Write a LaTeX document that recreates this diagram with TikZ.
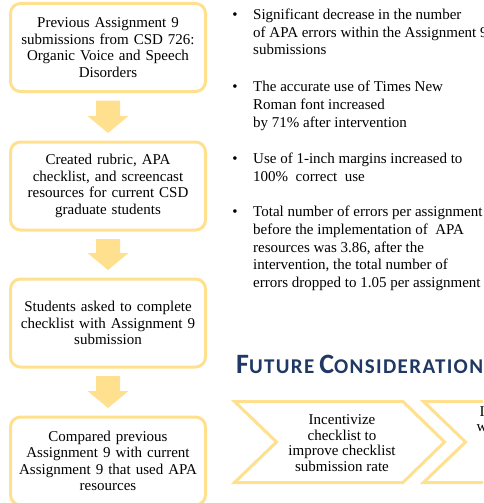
\documentclass[tikz,border=0pt]{standalone}
\usepackage{fontspec}
\setmainfont{Liberation Serif}
\newfontfamily\headfont{Carlito}[LetterSpace=6.5]
\usetikzlibrary{calc}
\definecolor{gold}{HTML}{FFE08F}
\definecolor{navy}{HTML}{1F3864}

% block arrow pointing down from one flow box to the next
\newcommand{\flowarrow}[2]{%
  \path let \p1=(#1.south), \p2=(#2.north) in
    [fill=gold]
    (\x1-12pt,\y1-7.5pt) -- (\x1+12pt,\y1-7.5pt) -- (\x1+12pt,\y2+24.5pt)
    -- (\x1+20.5pt,\y2+24.5pt) -- (\x1,\y2+7.5pt) -- (\x1-20.5pt,\y2+24.5pt)
    -- (\x1-12pt,\y2+24.5pt) -- cycle;}

\begin{document}
\begin{tikzpicture}[x=1pt,y=-1pt,
  flowbox/.style={draw=gold, line width=3pt, rounded corners=10pt,
    minimum width=195pt, minimum height=88pt, text width=185pt,
    align=center, inner sep=0pt, font=\fontsize{15}{16.5}\selectfont},
  bullettext/.style={anchor=north west, inner sep=0pt, align=left,
    font=\fontsize{15}{17.6}\selectfont},
  dot/.style={anchor=base, inner sep=0pt, font=\fontsize{15}{15}\selectfont},
  chevron/.style={draw=gold, line width=3pt, miter limit=10},
  chevtext/.style={align=center, inner sep=0pt, font=\fontsize{15}{15.5}\selectfont},
  frag/.style={anchor=base west, inner sep=0pt, font=\fontsize{15}{15.5}\selectfont}]
\useasboundingbox (0,0) rectangle (483,503);
\clip (0,0) rectangle (483,503);

% flow of the study, top to bottom
\node[flowbox] (s1) at (108,47.5) {Previous Assignment 9\\submissions from CSD 726:\\Organic Voice and Speech\\Disorders};
\node[flowbox] (s2) at (108,186) {Created rubric, APA\\checklist, and screencast\\resources for current CSD\\graduate students};
\node[flowbox] (s3) at (108,323) {Students asked to complete\\checklist with Assignment 9\\submission};
\node[flowbox] (s4) at (108,461) {Compared previous\\Assignment 9 with current\\Assignment 9 that used APA\\resources};

\flowarrow{s1}{s2}
\flowarrow{s2}{s3}
\flowarrow{s3}{s4}

% results list
\node[dot] (d1) at (235,19.5) {•};
\node[bullettext] (r1) at (253,8.5) {\rule{0pt}{11pt}Significant decrease in the number\\of APA errors within the Assignment 9\\submissions};
\node[dot] (d2) at (235,91.7) {•};
\node[bullettext] (r2) at (253,80.7) {\rule{0pt}{11pt}The accurate use of Times New\\Roman font increased\\by 71\% after intervention};
\node[dot] (d3) at (235,163.3) {•};
\node[bullettext] (r3) at (253,152.3) {\rule{0pt}{11pt}Use of 1-inch margins increased to\\100\%~ correct~ use};
\node[dot] (d4) at (235,216.7) {•};
\node[bullettext] (r4) at (253,205.7) {\rule{0pt}{11pt}Total number of errors per assignment\\before the implementation of~ APA\\resources was 3.86, after the\\intervention, the total number of\\errors dropped to 1.05 per assignment};

% heading
\node[anchor=base west, inner sep=0pt, text=navy, font=\headfont\bfseries] (fc) at (236,373.5)
  {{\fontsize{28}{28}\selectfont F}{\fontsize{21}{21}\selectfont UTURE}\hspace{2pt} {\fontsize{28}{28}\selectfont C}{\fontsize{21}{21}\selectfont ONSIDERATION}};

% chevrons
\draw[chevron] (234.5,401.5) -- (403,401.5) -- (444.5,442) -- (403,482.5) -- (234.5,482.5) -- (276.5,442) -- cycle;
\node[chevtext] (c1) at (342,443) {Incentivize\\checklist to\\improve checklist\\submission rate};
\draw[chevron] (500,401.5) -- (423.5,401.5) -- (465.5,442) -- (423.5,482.5) -- (500,482.5);
\node[frag] (c2a) at (479.5,416) {I};
\node[frag] (c2b) at (476.5,431.5) {w};
\end{tikzpicture}
\end{document}
